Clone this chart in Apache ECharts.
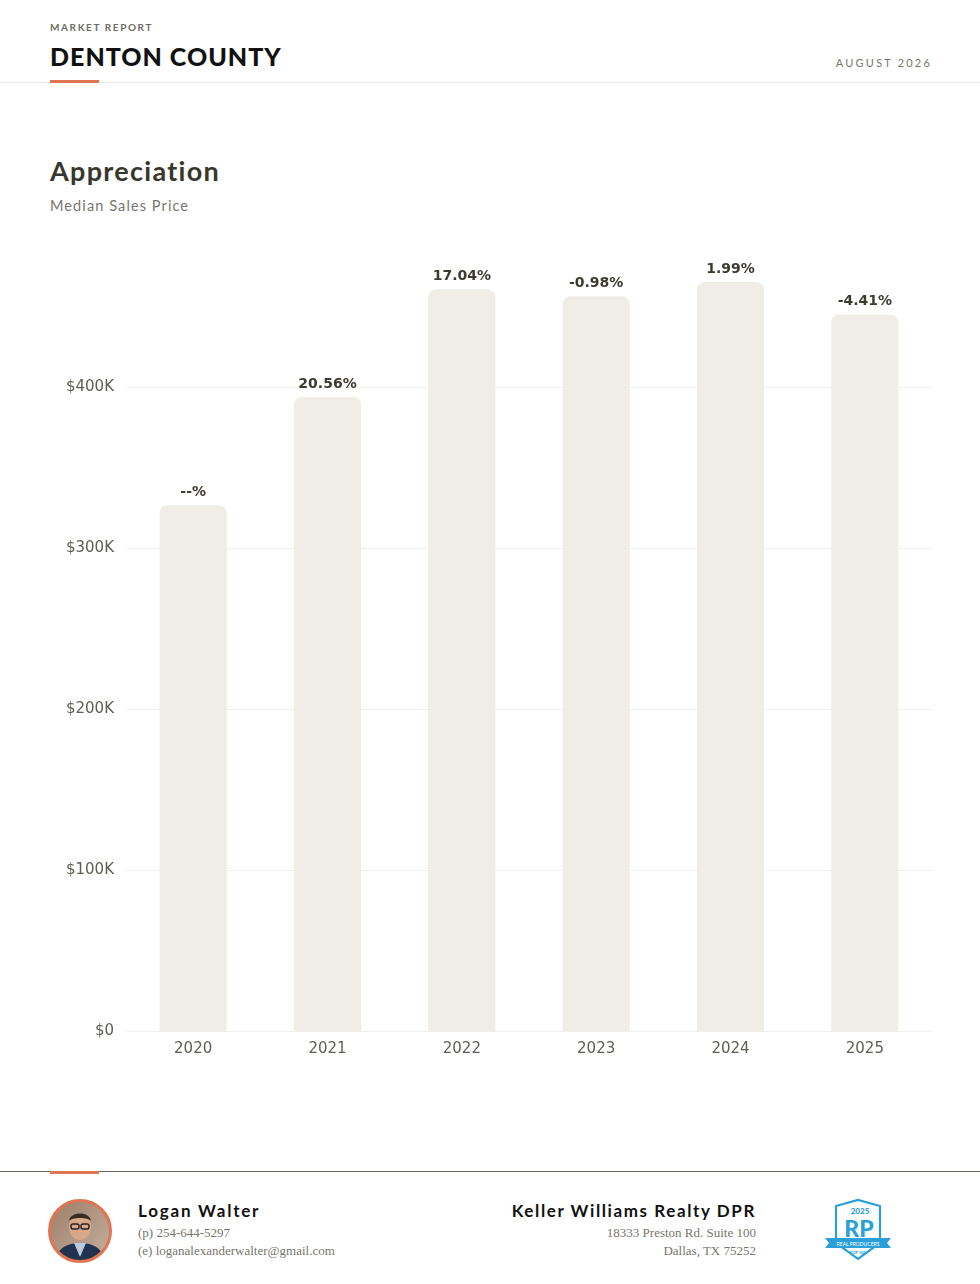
<!DOCTYPE html>
<html>
<head>
<meta charset="utf-8">
<title>Denton County - Appreciation</title>
<script src="https://cdn.jsdelivr.net/npm/echarts@6/dist/echarts.min.js"></script>
<style>
  html, body { margin: 0; padding: 0; background: #fff; }
  body { width: 980px; height: 1284px; position: relative; overflow: hidden; font-family: Lato, "Noto Sans", sans-serif; }
  .abs { position: absolute; white-space: nowrap; }
  .kicker { left: 50px; top: 21px; font-size: 10px; letter-spacing: 1.6px; color: #6e6d63; font-weight: 700; }
  .county { left: 50px; top: 41px; font-size: 25px; font-weight: 900; letter-spacing: 1px; color: #111; }
  .date { right: 48px; top: 56px; font-size: 11px; letter-spacing: 2.2px; color: #77766c; }
  .hline { left: 0; width: 980px; top: 82px; height: 1px; background: #e8e8e6; }
  .accent { left: 50px; width: 49px; height: 3px; background: #e07552; }
  .title { left: 50px; top: 154px; font-size: 27px; font-weight: 700; color: #38372b; letter-spacing: 1.3px; }
  .subtitle { left: 50px; top: 197px; font-size: 14.5px; color: #77766c; letter-spacing: 1.1px; }
  #chart { position: absolute; left: 0; top: 200px; width: 980px; height: 900px; }
  .fline { left: 0; width: 980px; top: 1171px; height: 1px; background: #6b6b60; }
  .name { left: 138px; top: 1200px; font-size: 17px; font-weight: 700; letter-spacing: 1.8px; color: #111; }
  .serif { font-family: "Liberation Serif", "DejaVu Serif", serif; font-size: 13px; color: #77766c; }
  .firm { right: 224px; top: 1200px; font-size: 17px; font-weight: 700; letter-spacing: 1.6px; color: #111; }
  .r { text-align: right; }
</style>
</head>
<body>
<div class="abs kicker">MARKET REPORT</div>
<div class="abs county">DENTON COUNTY</div>
<div class="abs date">AUGUST 2026</div>
<div class="abs hline"></div>
<div class="abs accent" style="top:80px"></div>

<div class="abs title">Appreciation</div>
<div class="abs subtitle">Median Sales Price</div>

<div id="chart"></div>

<div class="abs fline"></div>
<div class="abs accent" style="top:1171px"></div>

<svg class="abs" style="left:46px;top:1197px" width="68" height="68" viewBox="0 0 68 68">
  <defs>
    <clipPath id="pc"><circle cx="34" cy="34" r="30"/></clipPath>
    <linearGradient id="bg" x1="0" y1="0" x2="1" y2="1">
      <stop offset="0" stop-color="#9a7a66"/>
      <stop offset="1" stop-color="#c8b4a2"/>
    </linearGradient>
  </defs>
  <g clip-path="url(#pc)">
    <rect width="68" height="68" fill="url(#bg)"/>
    <path d="M8 68 C10 52 20 46 34 46 C48 46 58 52 60 68 Z" fill="#22334f"/>
    <path d="M28 46 L34 60 L40 46 Z" fill="#b9cbe0"/>
    <ellipse cx="34" cy="30" rx="11" ry="13" fill="#d9a88a"/>
    <path d="M23 24 C24 14 44 14 45 24 C42 20 26 20 23 24 Z" fill="#3a2a20"/>
    <rect x="25" y="27" width="8" height="5" rx="2" fill="none" stroke="#222" stroke-width="1.4"/>
    <rect x="35" y="27" width="8" height="5" rx="2" fill="none" stroke="#222" stroke-width="1.4"/>
  </g>
  <circle cx="34" cy="34" r="30.5" fill="none" stroke="#e07552" stroke-width="3"/>
</svg>

<div class="abs name">Logan Walter</div>
<div class="abs serif" style="left:138px;top:1225px">(p) 254-644-5297</div>
<div class="abs serif" style="left:138px;top:1243px">(e) loganalexanderwalter@gmail.com</div>

<div class="abs firm r">Keller Williams Realty DPR</div>
<div class="abs serif r" style="right:224px;top:1225px">18333 Preston Rd. Suite 100</div>
<div class="abs serif r" style="right:224px;top:1243px">Dallas, TX 75252</div>

<svg class="abs" style="left:822px;top:1197px" width="72" height="66" viewBox="0 0 72 66">
  <path d="M14 9 L36 3 L58 9 L58 46 L36 62 L14 46 Z" fill="#fff" stroke="#2a9fd8" stroke-width="2.2"/>
  <text x="38" y="17" font-family="Lato, sans-serif" font-weight="900" font-size="8" fill="#2a9fd8" text-anchor="middle">2025</text>
  <text x="37" y="40" font-family="Lato, sans-serif" font-weight="900" font-size="23" fill="#2a9fd8" text-anchor="middle">RP</text>
  <path d="M3 41 L69 41 L65 46 L69 51 L3 51 L7 46 Z" fill="#2a9fd8"/>
  <text x="36" y="48.5" font-family="Lato, sans-serif" font-size="5" fill="#fff" text-anchor="middle">REAL PRODUCERS</text>
  <text x="36" y="57" font-family="Lato, sans-serif" font-weight="700" font-size="4" fill="#2a9fd8" text-anchor="middle">TOP 500</text>
</svg>

<script>
// values
var years = ['2020', '2021', '2022', '2023', '2024', '2025'];
var medianPrice = [326600, 393800, 460700, 456300, 465200, 445000];
var pctChange = [null, 20.56, 17.04, -0.98, 1.99, -4.41];
var yTicks = [0, 100000, 200000, 300000, 400000];

var chart = echarts.init(document.getElementById('chart'));

function money(v) {
  if (v === 0) return '$0';
  return '$' + (v / 1000) + 'K';
}

var option = {
  animation: false,
  grid: {
    left: 126,
    right: 48,
    top: 26,
    bottom: 69
  },
  xAxis: {
    type: 'category',
    data: years,
    axisLine: { show: false },
    axisTick: { show: false },
    axisLabel: {
      color: '#5f5e55',
      fontSize: 15,
      fontFamily: 'DejaVu Sans',
      margin: 11
    }
  },
  yAxis: {
    type: 'value',
    min: 0,
    max: 500000,
    interval: 100000,
    axisLine: { show: false },
    axisTick: { show: false },
    axisLabel: {
      color: '#5f5e55',
      fontSize: 15,
      fontFamily: 'DejaVu Sans',
      margin: 12,
      formatter: function (v) {
        return yTicks.indexOf(v) >= 0 ? money(v) : '';
      }
    },
    splitLine: {
      lineStyle: {
        // last one (the 500K top edge) is not drawn in the reference
        color: ['#efefec', '#efefec', '#efefec', '#efefec', '#efefec', 'rgba(0,0,0,0)'],
        width: 1
      }
    }
  },
  series: [
    {
      type: 'bar',
      data: medianPrice,
      barWidth: '50%',
      itemStyle: {
        color: '#f0ede6',
        borderRadius: [8, 8, 0, 0]
      },
      label: {
        show: true,
        position: 'top',
        distance: 6,
        color: '#3d3b30',
        fontSize: 14,
        fontWeight: 'bold',
        fontFamily: 'DejaVu Sans',
        formatter: function (p) {
          var c = pctChange[p.dataIndex];
          return c === null ? '--%' : c.toFixed(2) + '%';
        }
      }
    }
  ]
};

chart.setOption(option);
</script>
</body>
</html>
